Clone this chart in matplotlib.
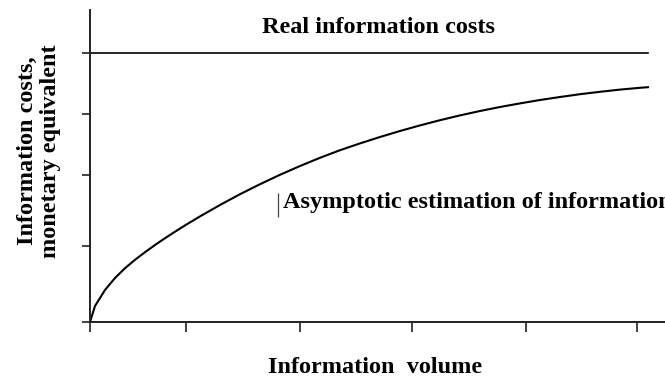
import matplotlib
matplotlib.use("Agg")
import matplotlib.pyplot as plt

# values (arbitrary units)
volume = [0, 0.5, 1.5, 2.5, 3.5, 4.5, 5.5, 6.5, 7.5, 8.5, 9.5, 11, 13, 15,
          17, 19, 21, 23, 25, 27, 29, 31, 33, 35, 37, 39, 41, 43, 45, 47,
          49, 51, 53, 55, 55.8]
estimate = [0, 1.6, 3.2, 4.4, 5.38, 6.22, 6.98, 7.7, 8.38, 9.03, 9.66, 10.56,
            11.7, 12.78, 13.78, 14.72, 15.6, 16.42, 17.18, 17.86, 18.5, 19.1,
            19.66, 20.18, 20.66, 21.1, 21.5, 21.86, 22.2, 22.5, 22.78, 23.02,
            23.24, 23.42, 23.48]
real_cost = 26.9
x_ticks = [0, 9.6, 21.0, 32.2, 43.6, 54.7]
y_ticks = [0, 7.6, 14.7, 20.8, 26.9]

plt.rcParams["font.family"] = ["Liberation Serif", "DejaVu Serif"]
plt.rcParams["font.weight"] = "bold"

fig = plt.figure(figsize=(6.65, 3.81), dpi=100)
ax = fig.add_axes([90 / 665, 59 / 381, 575 / 665, 312 / 381])

ax.plot(volume, estimate, color="black", lw=1.5, solid_joinstyle="round")
ax.plot([0, volume[-1]], [real_cost, real_cost], color="black", lw=1.2)

ax.set_xlim(0, 57.5)
ax.set_ylim(0, 31.2)
ax.set_xticks(x_ticks)
ax.set_yticks(y_ticks)
ax.set_xticklabels([])
ax.set_yticklabels([])
ax.tick_params(axis="x", length=7, width=1.2, color="#222222")
ax.tick_params(axis="y", length=6, width=1.2, color="#222222")
for side in ["top", "right"]:
    ax.spines[side].set_visible(False)
for side in ["left", "bottom"]:
    ax.spines[side].set_linewidth(1.4)
    ax.spines[side].set_color("#222222")

ax.text(28.8, 29.4, "Real information costs", ha="center", va="center",
        fontsize=17.5, fontweight="bold")
ax.text(19.3, 11.9, "Asymptotic estimation of information", ha="left",
        va="center", fontsize=17.5, fontweight="bold", clip_on=False)
ax.vlines(18.8, 10.5, 12.9, color="#444444", lw=0.9)

ax.set_ylabel("Information costs,\nmonetary equivalent", fontsize=17.5,
              fontweight="bold", linespacing=1.1)
ax.yaxis.set_label_coords(-0.089, 0.548)
ax.set_xlabel("Information  volume", fontsize=17.5, fontweight="bold")
ax.xaxis.set_label_coords(0.496, -0.147)
ax.xaxis.label.set_va("center")
ax.yaxis.label.set_va("center")

fig.savefig("out.png", dpi=100)
